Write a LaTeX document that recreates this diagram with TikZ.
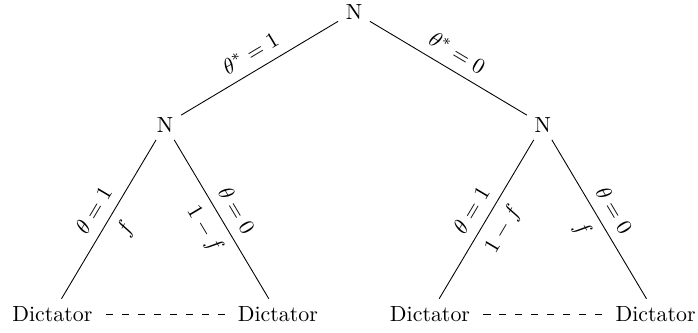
\documentclass[tikz,border=0pt]{standalone}
\usepackage{amsmath,amssymb}
\usepackage{tikz}
\usetikzlibrary{positioning}

\begin{document}
\begin{tikzpicture}[
  move/.style={midway, sloped, inner sep=4.5pt},
  leaf/.style={},
  chance/.style={},
  infoset/.style={dash pattern=on 3.3pt off 4pt, shorten <=2.5pt, shorten >=2.5pt}]
\useasboundingbox (-5.68,0.19) rectangle (5.52,-5.14);
% ---------------- nature at the root ----------------
\node[chance] (root) at (0,0) {N};
\node[chance] (nl) at (-3.03,-1.81) {N};
\node[chance] (nr) at (3.03,-1.81) {N};
\draw (root) -- (nl) node[move, above] {$\theta^* = 1$};
\draw (root) -- (nr) node[move, above] {$\theta^* = 0$};
% ---------------- left subtree ----------------
\node[leaf] (ll) at (-4.84,-4.85) {Dictator};
\node[leaf] (lr) at (-1.22,-4.85) {Dictator};
\draw (nl) -- (ll) node[move, above] {$\theta = 1$}
                   node[move, below] {$f$};
\draw (nl) -- (lr) node[move, above] {$\theta = 0$}
                   node[move, below] {$1 - f$};
\draw[infoset] (ll) -- (lr);                     % information set
% ---------------- right subtree ----------------
\node[leaf] (rl) at (1.22,-4.85) {Dictator};
\node[leaf] (rr) at (4.84,-4.85) {Dictator};
\draw (nr) -- (rl) node[move, above] {$\theta = 1$}
                   node[move, below] {$1 - f$};
\draw (nr) -- (rr) node[move, above] {$\theta = 0$}
                   node[move, below] {$f$};
\draw[infoset] (rl) -- (rr);                     % information set
\end{tikzpicture}
\end{document}
